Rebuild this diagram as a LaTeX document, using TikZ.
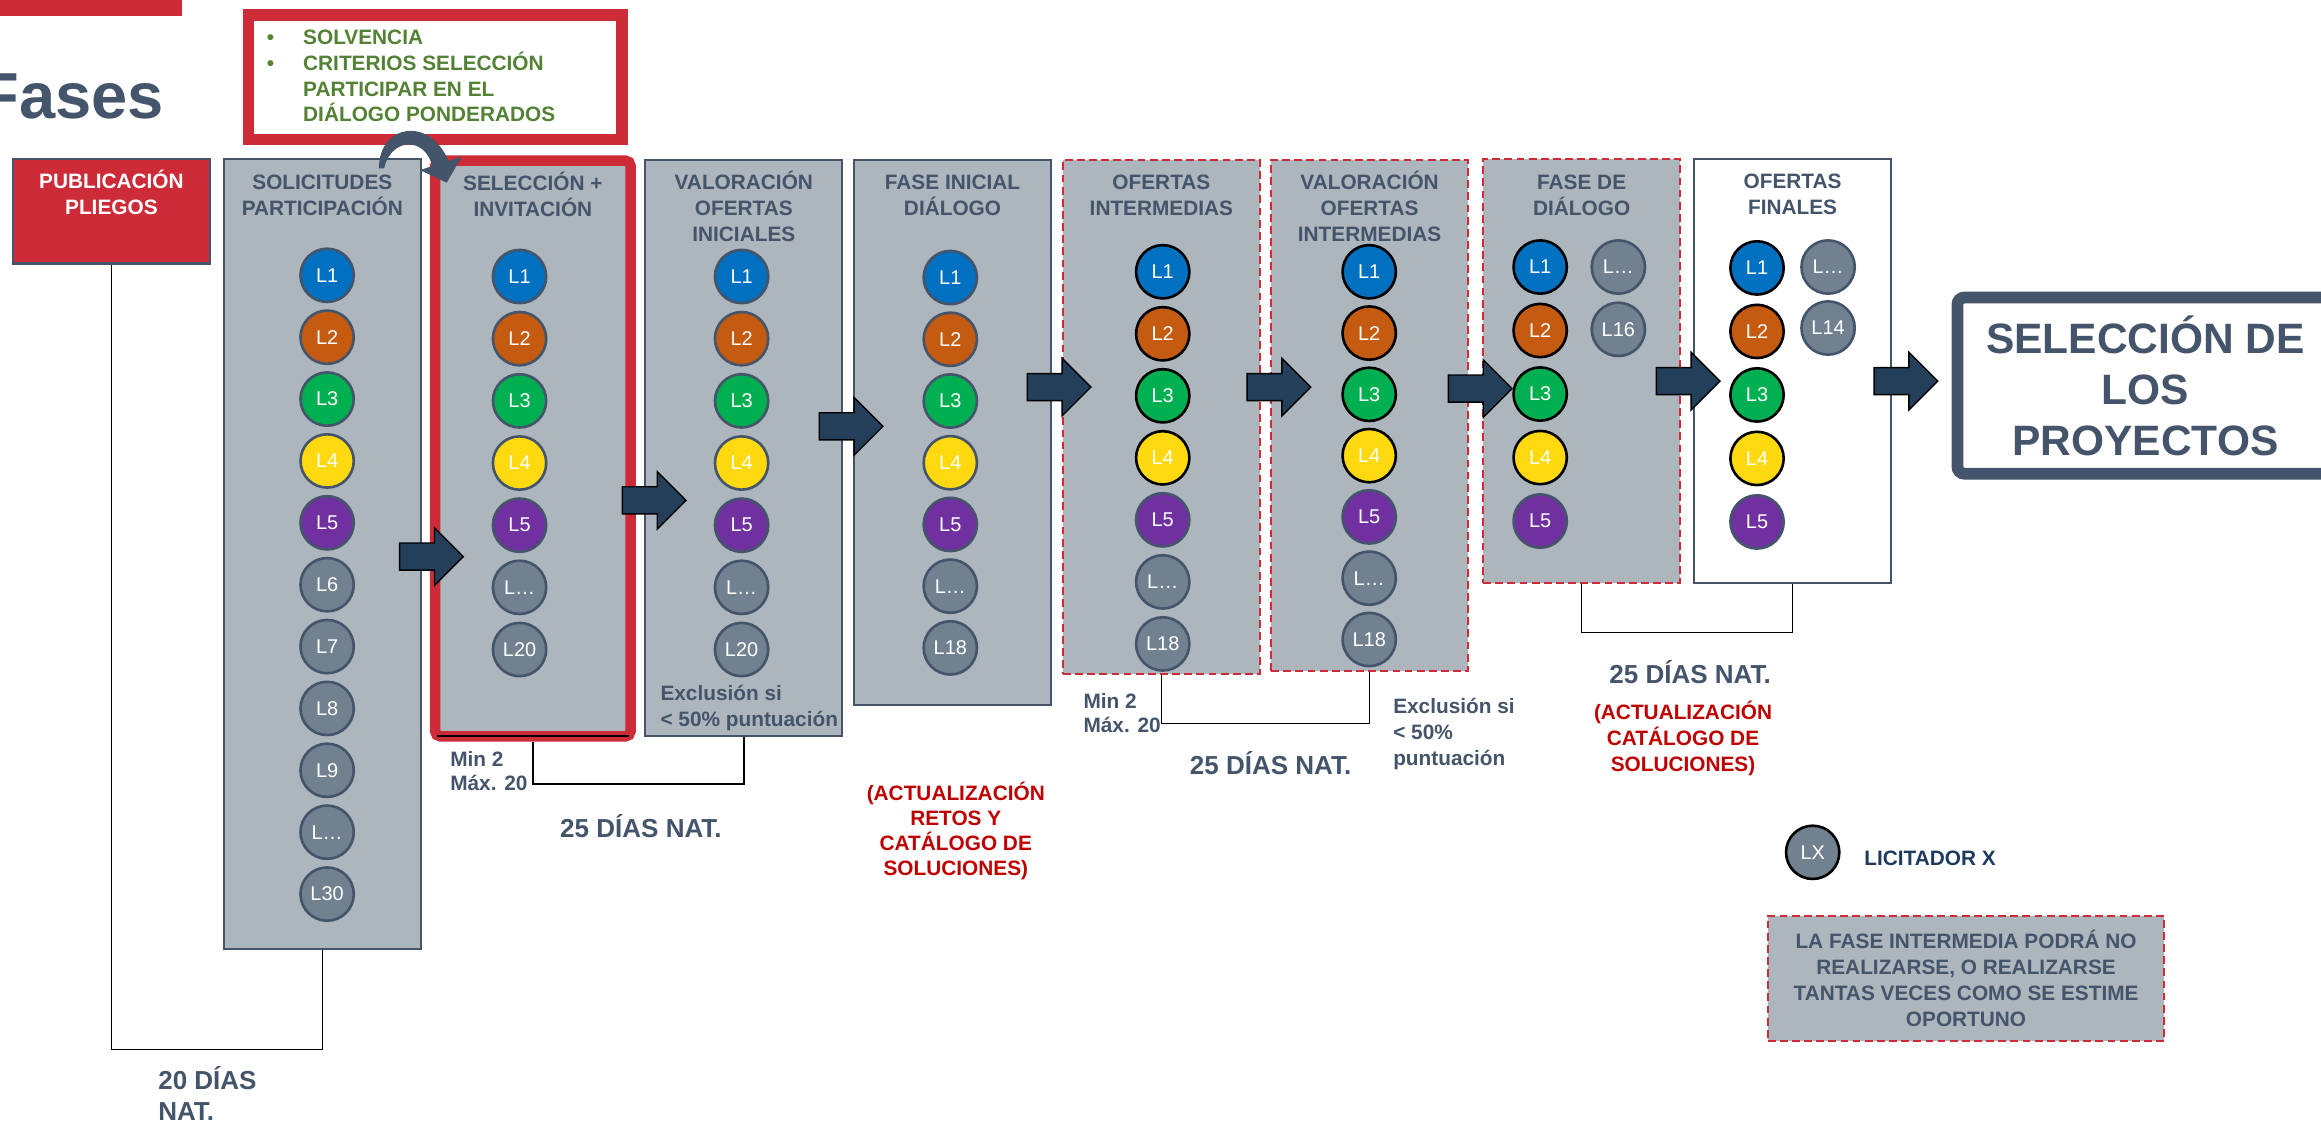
\documentclass[tikz,border=0pt]{standalone}
\usepackage{fontspec}
\setmainfont{Liberation Sans}
\usetikzlibrary{shapes.arrows, positioning}

\definecolor{slate}{HTML}{44546A}
\definecolor{panel}{HTML}{ADB5BD}
\definecolor{lgray}{HTML}{718190}
\definecolor{bred}{HTML}{CD2B37}
\definecolor{navy}{HTML}{243F5A}
\definecolor{lblue}{HTML}{0070C0}
\definecolor{lorange}{HTML}{C55A11}
\definecolor{lgreen}{HTML}{00B050}
\definecolor{lyellow}{HTML}{FFD910}
\definecolor{lpurple}{HTML}{7030A0}
\definecolor{dgreen}{HTML}{548235}
\definecolor{dred}{HTML}{C00000}
\definecolor{ink}{HTML}{1F3A5F}

\tikzset{
  col/.style={draw=slate, line width=1.2pt, fill=panel, inner sep=0pt, minimum width=3.99cm},
  colopt/.style={col, draw=bred, dash pattern=on 4.5pt off 2.5pt},
  hdr/.style={text=slate, font=\bfseries\fontsize{12}{15}\selectfont, align=center, anchor=base, inner sep=0pt},
  lic/.style={circle, fill=#1, draw=slate, line width=1.5pt, minimum size=1.08cm, inner sep=0pt, text=white, font=\fontsize{11.5}{12}\selectfont},
  barrow/.style={single arrow, draw=black, fill=navy, line width=0.8pt, anchor=tail, inner xsep=0pt, inner ysep=0.26cm, single arrow head extend=0.31cm, minimum height=1.29cm},
  remark/.style={text=slate, font=\bfseries\fontsize{12}{15}\selectfont, align=left, anchor=base west, inner sep=0pt},
  days/.style={text=slate, font=\bfseries\fontsize{15}{18}\selectfont, anchor=base, inner sep=0pt},
  upd/.style={text=dred, font=\bfseries\fontsize{12}{15}\selectfont, align=center, anchor=base, inner sep=0pt},
  bracket/.style={black, line width=0.8pt}
}

\begin{document}
\begin{tikzpicture}[x=0.03cm, y=-0.03cm]
\useasboundingbox (0,0) rectangle (1568,758);

% title
\fill[bred] (0,0) rectangle (123,10.6);
\node[text=slate, font=\bfseries\fontsize{37.5}{40}\selectfont, anchor=base west, inner sep=0pt] (title) at (-14,80) {Fases};

% criteria box
\node[draw=bred, line width=6.8pt, fill=white, minimum width=7.57cm, minimum height=2.526cm, inner sep=0pt] (solv) at (294,52.1) {};
\node[text=dgreen, font=\bfseries\fontsize{12}{14.8}\selectfont, align=left, anchor=base west, inner sep=0pt] (crit) at (180,82.2)
  {\makebox[21pt][l]{\textbullet}SOLVENCIA\\\makebox[21pt][l]{\textbullet}CRITERIOS SELECCIÓN\\\hspace*{21pt}PARTICIPAR  EN EL\\\hspace*{21pt}DIÁLOGO PONDERADOS};

% phases
\node[col, fill=bred, minimum width=4cm, minimum height=2.115cm] (pub) at (75.25,142.75) {};
\node[col, minimum width=4cm, minimum height=16cm] (sol) at (217.75,374.25) {};
\node[col, draw=bred, line width=6pt, outer sep=0pt, rounded corners=3pt, minimum width=3.96cm, minimum height=11.67cm] (sel) at (360,303) {};
\draw[line width=1.2pt] ([xshift=1pt]sel.south west) -- ([xshift=-1pt]sel.south east);
\node[col, minimum height=11.67cm] (vali) at (502.5,302.5) {};
\node[col, minimum height=11.04cm] (fasei) at (643.5,292) {};
\node[colopt, minimum height=10.42cm] (ofi) at (784.6,281.7) {};
\node[colopt, minimum height=10.36cm] (valint) at (925.25,280.65) {};
\node[colopt, minimum height=8.6cm] (fased) at (1068.5,250.7) {};
\node[col, fill=white, line width=1.4pt, minimum height=8.6cm] (off) at (1211,250.7) {};

\node[hdr, text=white] (hpub) at ([yshift=-32.8pt]pub.north) {PUBLICACIÓN\\PLIEGOS};
\node[hdr] (hsol) at ([yshift=-32.8pt]sol.north) {SOLICITUDES\\PARTICIPACIÓN};
\node[hdr] (hsel) at ([yshift=-32.3pt]sel.north) {SELECCIÓN +\\INVITACIÓN};
\node[hdr] (hvali) at ([yshift=-47.6pt]vali.north) {VALORACIÓN\\OFERTAS\\INICIALES};
\node[hdr] (hfasei) at ([yshift=-32.6pt]fasei.north) {FASE INICIAL\\DIÁLOGO};
\node[hdr] (hofi) at ([yshift=-32.6pt]ofi.north) {OFERTAS\\INTERMEDIAS};
\node[hdr] (hvalint) at ([yshift=-47.6pt]valint.north) {VALORACIÓN\\OFERTAS\\INTERMEDIAS};
\node[hdr] (hfased) at ([yshift=-33pt]fased.north) {FASE DE\\DIÁLOGO};
\node[hdr] (hoff) at ([yshift=-33pt]off.north) {OFERTAS\\FINALES};

% bidders
\foreach \lab/\fc [count=\i] in {L1/lblue, L2/lorange, L3/lgreen, L4/lyellow, L5/lpurple, L6/lgray, L7/lgray, L8/lgray, L9/lgray, L…/lgray, L30/lgray}
  \node[lic=\fc] (sol\i) at (221,{186+41.8*(\i-1)}) {\lab};
\foreach \lab/\fc [count=\i] in {L1/lblue, L2/lorange, L3/lgreen, L4/lyellow, L5/lpurple, L…/lgray, L20/lgray} {
  \node[lic=\fc] (sel\i) at (351,{186.8+42*(\i-1)}) {\lab};
  \node[lic=\fc] (vali\i) at (501,{186.8+42*(\i-1)}) {\lab};
}
\foreach \lab/\fc [count=\i] in {L1/lblue, L2/lorange, L3/lgreen, L4/lyellow, L5/lpurple, L…/lgray, L18/lgray}
  \node[lic=\fc] (fasei\i) at (642,{187.5+41.7*(\i-1)}) {\lab};
\foreach \lab/\fc/\bc [count=\i] in {L1/lblue/black, L2/lorange/black, L3/lgreen/black, L4/lyellow/black, L5/lpurple/slate, L…/lgray/slate, L18/lgray/slate} {
  \node[lic=\fc, draw=\bc] (ofi\i) at (785.5,{183.6+41.9*(\i-1)}) {\lab};
  \node[lic=\fc, draw=\bc] (valint\i) at (925,{183.6+41.4*(\i-1)}) {\lab};
}
\foreach \lab/\fc/\bc [count=\i] in {L1/lblue/black, L2/lorange/black, L3/lgreen/black, L4/lyellow/black, L5/lpurple/slate} {
  \node[lic=\fc, draw=\bc] (fased\i) at (1040.5,{180.4+42.9*(\i-1)}) {\lab};
  \node[lic=\fc, draw=\bc] (off\i) at (1187,{181+42.9*(\i-1)}) {\lab};
}
\node[lic=lgray] (fased6) at (1093.3,180.4) {L…};
\node[lic=lgray] (fased7) at (1093.3,222.5) {L16};
\node[lic=lgray] (off6) at (1235,180.4) {L…};
\node[lic=lgray] (off7) at (1235,221.6) {L14};

% durations
\draw[bracket] (pub.south) -- ++(0,530.5) -| (sol.south);
\draw[bracket] (sel.south) ++(0,3.5) -- ++(0,28.7) -| (vali.south);
\draw[bracket] (ofi.south) -- ++(0,32.6) -| (valint.south);
\draw[bracket] (fased.south) -- ++(0,32.4) -| (off.south);

% flow
\node[barrow] (a1) at (269.5,376) {};
\node[barrow] (a2) at (420,338) {};
\node[barrow] (a3) at (553,288) {};
\node[barrow] (a4) at (693.5,261.5) {};
\node[barrow] (a5) at (842,261.5) {};
\node[barrow] (a6) at (978,262.5) {};
\node[barrow] (a7) at (1118.5,257.5) {};
\node[barrow] (a8) at (1265.6,257.5) {};

\fill[slate] (256,113.7) .. controls (256,84) and (290,78) .. (303,108.7) -- (311.9,105.9) -- (301.8,123.4) -- (283.7,114.9) -- (292,112.2) .. controls (287,92) and (264,93) .. (259.5,113.7) -- cycle;

\node[draw=slate, line width=6.8pt, rounded corners=4pt, minimum width=7.62cm, minimum height=3.57cm, text=slate, font=\bfseries\fontsize{24.5}{29.5}\selectfont, align=center, inner sep=0pt] (proy) at (1449.4,260.5) {SELECCIÓN DE\\LOS\\PROYECTOS};

% notes
\node[remark] (excl1) at (446,490.7) {Exclusión si\\< 50\% puntuación};
\node[remark, font=\bfseries\fontsize{12}{13.8}\selectfont] (min1) at (304,534) {Min 2\\Máx. 20};
\node[remark, font=\bfseries\fontsize{12}{13.8}\selectfont] (min2) at (731.8,494.6) {Min 2\\Máx. 20};
\node[remark] (excl2) at (941,517) {Exclusión si\\< 50\%\\puntuación};
\node[days, align=left, anchor=base west, font=\bfseries\fontsize{15}{17.9}\selectfont] (d0) at (106.7,756.8) {20 DÍAS\\NAT.};
\node[days] (d1) at (433,566) {25 DÍAS NAT.};
\node[days] (d2) at (858.4,523.2) {25 DÍAS NAT.};
\node[days] (d3) at (1141.8,462) {25 DÍAS NAT.};
\node[upd, font=\bfseries\fontsize{12}{14.5}\selectfont] (u1) at (645.7,591.5) {(ACTUALIZACIÓN\\RETOS Y\\CATÁLOGO DE\\SOLUCIONES)};
\node[upd] (u2) at (1137,520.9) {(ACTUALIZACIÓN\\CATÁLOGO DE\\SOLUCIONES)};

% legend
\node[lic=lgray, draw=black] (lx) at (1224.6,575.8) {LX};
\node[text=ink, font=\bfseries\fontsize{12}{15}\selectfont, anchor=base west, inner sep=0pt] (lxt) at (1259.3,584.5) {LICITADOR X};
\node[colopt, minimum width=8.04cm, minimum height=2.526cm, text=slate, font=\bfseries\fontsize{12}{14.85}\selectfont, align=center] (nota) at (1328.2,661) {LA FASE INTERMEDIA PODRÁ NO\\REALIZARSE, O REALIZARSE\\TANTAS VECES COMO SE ESTIME\\OPORTUNO};
\end{tikzpicture}
\end{document}
